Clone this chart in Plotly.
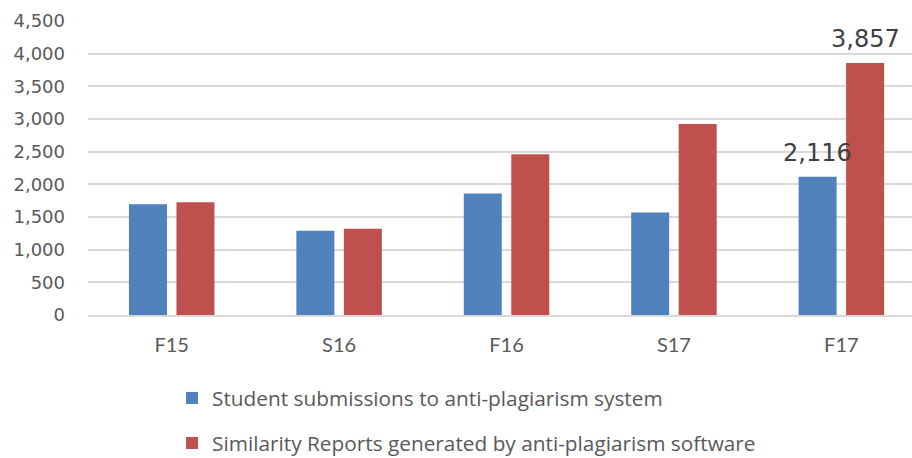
import plotly.graph_objects as go

# Semester labels and yearly counts
terms = ["F15", "S16", "F16", "S17", "F17"]
submissions = [1697, 1289, 1861, 1569, 2116]
similarity_reports = [1727, 1319, 2459, 2924, 3857]
y_ticks = [0, 500, 1000, 1500, 2000, 2500, 3000, 3500, 4000, 4500]

# Values called out above the last pair of bars
labelled_term = "F17"

BLUE = "#4F81BD"
RED = "#C0504D"
LABEL_FONT = "Lato, Roboto, sans-serif"

fig = go.Figure()
fig.add_trace(go.Bar(
    name="Student submissions to anti-plagiarism system",
    x=terms, y=submissions, marker_color=BLUE,
    marker_line_width=0, legendgroup="a",
))
fig.add_trace(go.Bar(
    name="Similarity Reports generated by anti-plagiarism software",
    x=terms, y=similarity_reports, marker_color=RED,
    marker_line_width=0, legendgroup="b",
))

# Value callouts for the final term, positioned over each bar of the pair
idx = terms.index(labelled_term)
for series, shift in ((submissions, -23.75), (similarity_reports, 23.75)):
    v = series[idx]
    fig.add_annotation(
        x=labelled_term, y=v, xref="x", yref="y",
        text=f"{v:,}", showarrow=False,
        xshift=shift, yanchor="bottom", yshift=8,
        font=dict(family="DejaVu Sans", size=24, color="#404040"),
    )

fig.update_layout(
    width=912, height=458,
    margin=dict(l=88, r=0, t=21, b=143, autoexpand=False),
    paper_bgcolor="white", plot_bgcolor="white",
    barmode="group", bargap=0.4325, bargroupgap=0.2,
    showlegend=True,
    legend=dict(
        orientation="v", x=0.102, xanchor="left",
        y=-0.214, yanchor="top",
        font=dict(family="Open Sans, sans-serif", size=20.8, color="#595959"),
        tracegroupgap=15, bgcolor="rgba(0,0,0,0)",
    ),
)
fig.update_xaxes(
    range=[-0.5, 4.422], showgrid=False, ticks="",
    showline=True, linecolor="#D9D9D9", linewidth=1.5,
    tickfont=dict(family=LABEL_FONT, size=20, color="#595959"),
    ticklabelstandoff=11,
)
fig.update_yaxes(
    range=[0, 4500], tickvals=y_ticks, tickformat=",",
    showgrid=True, gridcolor="#D9D9D9", gridwidth=1.5,
    zeroline=False, showline=False, ticks="",
    tickfont=dict(family="DejaVu Sans", size=18, color="#595959"),
    ticklabelstandoff=22,
)

fig.write_html("out.html")
